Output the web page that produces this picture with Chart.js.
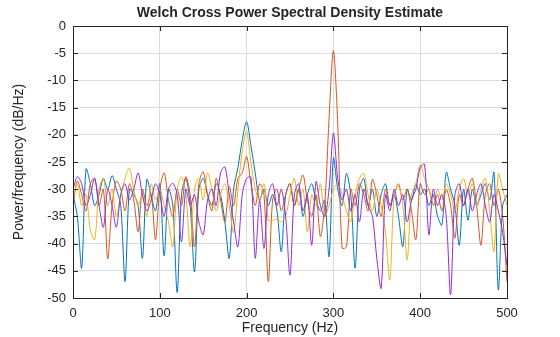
<!DOCTYPE html>
<html>
<head>
<meta charset="utf-8">
<script src="https://cdn.jsdelivr.net/npm/chart.js@4.4.1/dist/chart.umd.min.js"></script>
<style>
  html, body { margin: 0; padding: 0; background: #fff; }
  #wrap { width: 560px; height: 337px; position: relative; }
</style>
</head>
<body>
<div id="wrap"><canvas id="psdChart"></canvas></div>
<script>
// frequency bins (Hz)
const freqs = [0, 5, 10, 15, 20, 25, 30, 35, 40, 45, 50, 55, 60, 65, 70, 75, 80, 85, 90, 95,
  100, 105, 110, 115, 120, 125, 130, 135, 140, 145, 150, 155, 160, 165, 170, 175, 180, 185, 190, 195,
  200, 205, 210, 215, 220, 225, 230, 235, 240, 245, 250, 255, 260, 265, 270, 275, 280, 285, 290, 295,
  300, 305, 310, 315, 320, 325, 330, 335, 340, 345, 350, 355, 360, 365, 370, 375, 380, 385, 390, 395,
  400, 405, 410, 415, 420, 425, 430, 435, 440, 445, 450, 455, 460, 465, 470, 475, 480, 485, 490, 495, 500];

// dB/Hz
const blueVals = [-31, -35, -44.5, -26.3, -29, -33, -31, -28, -30, -27.5, -30, -33, -47, -30, -31, -33, -42.7, -28.2, -31, -34,
  -29, -42.3, -30, -33, -49, -31, -28, -33, -45.2, -30, -28, -31, -33, -29, -31, -36, -42.7, -30, -26, -21,
  -17.6, -22, -27.1, -32, -30, -33, -31, -34, -41.5, -31, -29, -33, -30, -35, -31, -29, -32, -34, -32, -42.4,
  -24.3, -30, -33, -27.1, -31, -44.5, -30, -28, -33, -30, -35, -31, -29, -33, -31, -35, -40.6, -30, -32, -29,
  -31, -30, -33, -31, -35, -36.6, -26.9, -30, -33, -40.3, -30, -35.7, -30, -33, -31, -29, -32, -26.9, -48.5, -33, -31];

const orangeVals = [-33, -28.5, -31, -34, -29, -28, -33, -30, -42.8, -33, -28.5, -30, -34, -29, -32, -37.8, -30, -33, -31, -39.3,
  -30, -27, -32, -35, -30, -33, -27.7, -31, -40.6, -29, -26.8, -31, -34, -28, -32, -36, -29.5, -33, -28, -27,
  -24, -29, -33, -29, -31, -47, -32, -30, -34, -31, -29, -33, -30, -27.4, -32, -35, -31, -38.7, -33, -17,
  -4.5, -18, -40.8, -40.6, -30, -33, -29, -31, -34, -28.2, -31, -35, -30, -33, -31, -29, -32, -30, -34, -39.3,
  -29, -31, -30, -33, -31, -34, -30, -33, -39, -31, -33, -30, -28, -33, -40.3, -31, -29, -33, -30, -35, -47];

const yellowVals = [-32, -29, -33, -31, -37.5, -39.3, -30, -28, -33, -30, -35, -31, -28, -26.1, -30, -33, -31, -35, -29, -32,
  -30, -33, -36, -40.6, -30, -27.7, -31, -40.6, -30, -28, -32, -27, -30, -34, -31, -29, -33, -38, -30, -23,
  -19.4, -25, -30, -32, -29, -35.7, -35.7, -35.5, -36, -35, -31, -28, -33, -30, -37.8, -31, -33, -29, -35, -33,
  -30, -29, -31, -34, -36, -31, -28, -27.1, -31, -34, -30, -33, -38, -46.7, -31, -29.5, -33, -43, -31, -29,
  -25.5, -28, -30, -33, -30, -32, -29, -31, -34, -30, -28, -31, -29, -33, -30, -28, -34, -41.5, -27.1, -30, -33];

const purpleVals = [-30, -27.7, -29, -33, -31, -28, -33, -37, -30, -33, -37, -31, -29, -32, -30, -27, -31, -34, -32, -29,
  -31, -35, -30, -28.9, -31, -39.7, -30, -33, -31, -36, -38.4, -32, -30, -33, -27, -25.9, -31, -36, -40.6, -31,
  -28, -27.8, -42.7, -32, -40.9, -31, -29, -33, -30, -35, -45.8, -31, -29, -34, -31, -40.3, -28.6, -33, -35, -30,
  -19.7, -28, -32, -30, -34, -31, -36, -30, -33, -35, -42.7, -48.2, -31, -34, -30, -33, -31, -36, -32, -30,
  -26, -25.4, -38.4, -30, -33, -31, -35, -49.4, -31, -29, -33, -30, -34, -31, -29, -33, -36, -31, -34, -38, -44];

const yTicks = [0, -5, -10, -15, -20, -25, -30, -35, -40, -45, -50];
const xTicks = [0, 100, 200, 300, 400, 500];

const FONT = "'Liberation Sans', Arial, Helvetica, sans-serif";
const INK = '#262626';

function toPoints(vals) {
    return freqs.map((f, i) => ({ x: f, y: vals[i] }));
}

// title centred on the plot area, box and inward ticks like matlab
const matlabFrame = {
    id: 'matlabFrame',
    afterDraw(chart) {
        const { ctx, chartArea: a, scales } = chart;
        ctx.save();
        ctx.strokeStyle = INK;
        ctx.lineWidth = 1;
        ctx.strokeRect(Math.round(a.left) + 0.5, Math.round(a.top) + 0.5,
            Math.round(a.right - a.left), Math.round(a.bottom - a.top));
        ctx.beginPath();
        const tl = 5;
        xTicks.forEach(v => {
            const x = Math.round(scales.x.getPixelForValue(v)) + 0.5;
            ctx.moveTo(x, a.bottom); ctx.lineTo(x, a.bottom - tl);
            ctx.moveTo(x, a.top); ctx.lineTo(x, a.top + tl);
        });
        yTicks.forEach(v => {
            const y = Math.round(scales.y.getPixelForValue(v)) + 0.5;
            ctx.moveTo(a.left, y); ctx.lineTo(a.left + tl, y);
            ctx.moveTo(a.right, y); ctx.lineTo(a.right - tl, y);
        });
        ctx.stroke();
        ctx.fillStyle = INK;
        ctx.font = 'bold 14px ' + FONT;
        ctx.textAlign = 'center';
        ctx.textBaseline = 'middle';
        ctx.fillText('Welch Cross Power Spectral Density Estimate', (a.left + a.right) / 2, 13);
        ctx.restore();
    }
};

function lineSet(vals, color, order) {
    return {
        data: toPoints(vals),
        borderColor: color,
        borderWidth: 1,
        pointRadius: 0,
        tension: 0.3,
        fill: false,
        order: order
    };
}

document.addEventListener("DOMContentLoaded", function() {
    const ctx = document.getElementById('psdChart').getContext('2d');
    new Chart(ctx, {
        type: 'line',
        data: {
            datasets: [
                lineSet(blueVals, '#0072BD', 4),
                lineSet(orangeVals, '#D95319', 3),
                lineSet(yellowVals, '#EDB120', 2),
                lineSet(purpleVals, '#8E2BD9', 1)
            ]
        },
        options: {
            responsive: true,
            maintainAspectRatio: false,
            animation: false,
            layout: { padding: { top: 26, right: 53, left: 0, bottom: 0 } },
            plugins: {
                legend: { display: false },
                title: { display: false },
                tooltip: { enabled: false }
            },
            scales: {
                x: {
                    type: 'linear',
                    min: 0, max: 500,
                    afterFit: s => { s.height = 39; },
                    afterBuildTicks: s => { s.ticks = xTicks.map(v => ({ value: v })); },
                    grid: { color: '#dcdcdc', drawTicks: false },
                    border: { display: false },
                    ticks: { color: INK, font: { family: FONT, size: 13 }, padding: 8, maxRotation: 0 },
                    title: { display: true, text: 'Frequency (Hz)', color: INK, font: { family: FONT, size: 14 }, padding: { top: 0, bottom: 0 } }
                },
                y: {
                    min: -50, max: 0,
                    afterFit: s => { s.width = 73; },
                    afterBuildTicks: s => { s.ticks = yTicks.map(v => ({ value: v })); },
                    grid: { color: '#dcdcdc', drawTicks: false },
                    border: { display: false },
                    ticks: { color: INK, font: { family: FONT, size: 13 }, padding: 7 },
                    title: { display: true, text: 'Power/frequency (dB/Hz)', color: INK, font: { family: FONT, size: 14 }, padding: { top: 11, bottom: 0 } }
                }
            }
        },
        plugins: [matlabFrame]
    });
});
</script>
</body>
</html>
